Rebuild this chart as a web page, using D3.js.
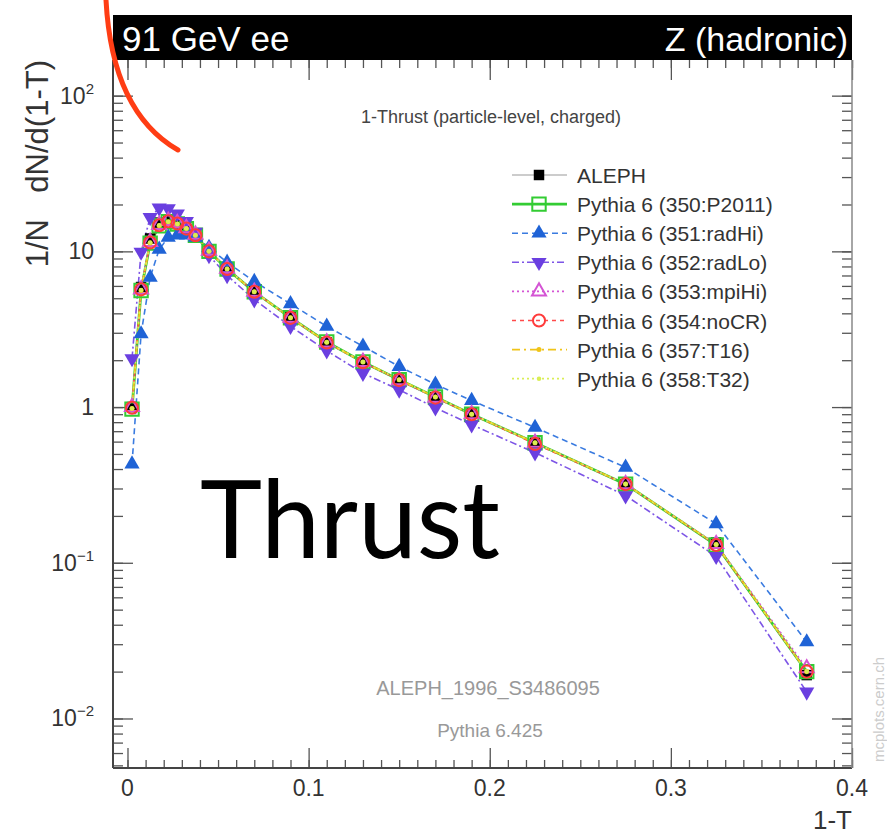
<!DOCTYPE html>
<html>
<head>
<meta charset="utf-8">
<script src="https://cdn.jsdelivr.net/npm/d3@7"></script>
<style>
  body { margin: 0; background: #fff; }
  svg { display: block; font-family: "Liberation Sans", Arial, sans-serif; }
</style>
</head>
<body>
<svg width="887" height="837"></svg>
<script>
// bin centres in 1-T
const binCenters = [0.0025, 0.0075, 0.0125, 0.0175, 0.0225, 0.0275, 0.0325, 0.0375,
  0.045, 0.055, 0.07, 0.09, 0.11, 0.13, 0.15, 0.17, 0.19, 0.225, 0.275, 0.325, 0.375];

const aleph  = [1.0, 5.9, 12.1, 15.3, 16.0, 15.3, 14.0, 12.7, 10.1, 7.8, 5.6, 3.8, 2.6, 1.94, 1.5, 1.16, 0.91, 0.59, 0.32, 0.135, 0.019];
const p2011  = [0.97, 5.6, 11.3, 14.6, 15.5, 15.0, 14.0, 12.7, 10.0, 7.7, 5.5, 3.75, 2.62, 1.95, 1.5, 1.16, 0.9, 0.59, 0.32, 0.13, 0.020];
const radHi  = [0.43, 2.95, 6.8, 10.3, 12.3, 12.7, 12.7, 12.3, 10.6, 8.5, 6.4, 4.6, 3.3, 2.46, 1.82, 1.4, 1.1, 0.74, 0.41, 0.178, 0.031];
const radLo  = [2.05, 9.9, 16.5, 19.0, 18.8, 17.4, 15.6, 13.3, 9.4, 7.0, 4.9, 3.3, 2.3, 1.65, 1.29, 0.99, 0.77, 0.51, 0.27, 0.11, 0.0148];
const mpiHi  = [1.0, 5.7, 11.5, 14.8, 15.7, 15.2, 14.1, 12.8, 10.1, 7.75, 5.5, 3.75, 2.6, 1.95, 1.49, 1.15, 0.9, 0.59, 0.32, 0.132, 0.021];
const noCR   = [0.99, 5.7, 11.4, 14.7, 15.6, 15.1, 14.0, 12.7, 10.0, 7.7, 5.5, 3.74, 2.6, 1.94, 1.49, 1.15, 0.9, 0.58, 0.32, 0.13, 0.020];
const t16    = [0.98, 5.6, 11.3, 14.6, 15.5, 15.0, 14.0, 12.7, 10.0, 7.7, 5.5, 3.75, 2.61, 1.95, 1.5, 1.16, 0.9, 0.59, 0.32, 0.131, 0.020];
const t32    = [0.98, 5.65, 11.4, 14.7, 15.5, 15.0, 14.0, 12.7, 10.0, 7.7, 5.5, 3.75, 2.61, 1.95, 1.5, 1.16, 0.9, 0.59, 0.32, 0.131, 0.020];

const legendLabels = ["ALEPH", "Pythia 6 (350:P2011)", "Pythia 6 (351:radHi)", "Pythia 6 (352:radLo)",
  "Pythia 6 (353:mpiHi)", "Pythia 6 (354:noCR)", "Pythia 6 (357:T16)", "Pythia 6 (358:T32)"];

const xTickLabels = [0, 0.1, 0.2, 0.3, 0.4];
const yTickExps = [2, 1, 0, -1, -2];

// series styles (order = draw order = legend order)
const series = [
  {vals: aleph, color: "#000", line: null, dash: null, sym: d3.symbolSquare, size: 110, fill: "#000", stroke: "none"},
  {vals: p2011, color: "#33cc33", line: 2.8, dash: null, sym: d3.symbolSquare, size: 180, fill: "none", stroke: "#33cc33"},
  {vals: radHi, color: "#3a7be0", line: 1.6, dash: "6,4", sym: d3.symbolTriangle, size: 100, fill: "#1f63d6", stroke: "none"},
  {vals: radLo, color: "#7d55e6", line: 1.6, dash: "7,3,2,3", sym: d3.symbolTriangle, size: 100, fill: "#6a3fe0", stroke: "none", rot: 180},
  {vals: mpiHi, color: "#d454d4", line: 1.6, dash: "2,3", sym: d3.symbolTriangle, size: 85, fill: "none", stroke: "#d454d4"},
  {vals: noCR, color: "#ff4a4a", line: 1.6, dash: "4,4", sym: d3.symbolCircle, size: 115, fill: "none", stroke: "#ff3b3b"},
  {vals: t16, color: "#f0c419", line: 1.8, dash: "8,4,2,4", sym: d3.symbolCircle, size: 20, fill: "#f0c419", stroke: "none"},
  {vals: t32, color: "#d9ee55", line: 1.8, dash: "2,3", sym: d3.symbolCircle, size: 16, fill: "#d9ee55", stroke: "none"}
];

const frame = {left: 113, right: 852, top: 60, bottom: 768};

const x = d3.scaleLinear()
    .domain([-0.008, 0.4])
    .range([frame.left, frame.right]);

const y = d3.scaleLog()
    .domain([Math.pow(10, -2.318), Math.pow(10, 2.229)])
    .range([frame.bottom, frame.top]);

const svg = d3.select("svg");

// header bar
svg.append("rect")
    .attr("x", frame.left).attr("y", 15)
    .attr("width", frame.right - frame.left).attr("height", frame.top - 15)
    .attr("fill", "#000");
svg.append("text")
    .attr("x", frame.left + 9).attr("y", 51)
    .attr("fill", "#fff").attr("font-size", 35)
    .text("91 GeV ee");
svg.append("text")
    .attr("x", frame.right - 4).attr("y", 51)
    .attr("fill", "#fff").attr("font-size", 34)
    .attr("text-anchor", "end")
    .text("Z (hadronic)");

// ticks
const xMinor = d3.range(0, 0.401, 0.01).map(d => +d.toFixed(2));
const yMinor = [];
for (let e = -3; e <= 2; e++) for (let m = 1; m < 10; m++) {
  const v = m * Math.pow(10, e);
  if (v >= y.domain()[0] && v <= y.domain()[1]) yMinor.push(v);
}
const yMajor = yTickExps.map(e => Math.pow(10, e));

const tickColor = "#555";

function ticks(g, axis) {
  g.call(axis);
  g.select(".domain").remove();
  g.selectAll(".tick line").attr("stroke", tickColor).attr("stroke-width", 1.3);
  g.selectAll(".tick text").remove();
}

svg.append("g").attr("transform", `translate(0,${frame.bottom})`)
    .call(ticks, d3.axisBottom(x).tickValues(xMinor).tickSize(-8));
svg.append("g").attr("transform", `translate(0,${frame.bottom})`)
    .call(ticks, d3.axisBottom(x).tickValues(xTickLabels).tickSize(-20));
svg.append("g").attr("transform", `translate(0,${frame.top})`)
    .call(ticks, d3.axisTop(x).tickValues(xMinor).tickSize(-8));
svg.append("g").attr("transform", `translate(0,${frame.top})`)
    .call(ticks, d3.axisTop(x).tickValues(xTickLabels).tickSize(-20));

svg.append("g").attr("transform", `translate(${frame.left},0)`)
    .call(ticks, d3.axisLeft(y).tickValues(yMinor).tickSize(-10));
svg.append("g").attr("transform", `translate(${frame.left},0)`)
    .call(ticks, d3.axisLeft(y).tickValues(yMajor).tickSize(-20));
svg.append("g").attr("transform", `translate(${frame.right},0)`)
    .call(ticks, d3.axisRight(y).tickValues(yMinor).tickSize(-10));
svg.append("g").attr("transform", `translate(${frame.right},0)`)
    .call(ticks, d3.axisRight(y).tickValues(yMajor).tickSize(-20));

// frame lines
svg.append("line").attr("x1", frame.left).attr("x2", frame.right)
    .attr("y1", frame.bottom).attr("y2", frame.bottom)
    .attr("stroke", "#444").attr("stroke-width", 2);
svg.append("line").attr("x1", frame.left).attr("x2", frame.left)
    .attr("y1", frame.top).attr("y2", frame.bottom)
    .attr("stroke", "#444").attr("stroke-width", 2);
svg.append("line").attr("x1", frame.right).attr("x2", frame.right)
    .attr("y1", frame.top).attr("y2", frame.bottom)
    .attr("stroke", "#888").attr("stroke-width", 1.5);

// tick labels
svg.append("g").selectAll("text").data(xTickLabels).join("text")
    .attr("x", d => x(d)).attr("y", frame.bottom + 28)
    .attr("text-anchor", "middle").attr("font-size", 23).attr("fill", "#333")
    .text(d => d === 0 ? "0" : d.toFixed(1));

const yl = svg.append("g").selectAll("text").data(yTickExps).join("text")
    .attr("x", 94).attr("y", e => y(Math.pow(10, e)) + 8)
    .attr("text-anchor", "end").attr("font-size", 23).attr("fill", "#333");
yl.each(function(e) {
  const t = d3.select(this);
  if (e === 0) t.text("1");
  else if (e === 1) t.text("10");
  else {
    t.append("tspan").text("10");
    t.append("tspan").attr("dy", -10).attr("font-size", 15).text(e < 0 ? "\u2212" + (-e) : e);
  }
});

// axis titles
svg.append("text")
    .attr("transform", `translate(48,${frame.top}) rotate(-90)`)
    .attr("text-anchor", "end").attr("font-size", 31).attr("fill", "#333")
    .text("dN/d(1-T)");
svg.append("text")
    .attr("transform", `translate(48,219) rotate(-90)`)
    .attr("text-anchor", "end").attr("font-size", 31).attr("fill", "#333")
    .text("1/N");
svg.append("text")
    .attr("x", frame.right).attr("y", 829)
    .attr("text-anchor", "end").attr("font-size", 26).attr("fill", "#333")
    .text("1-T");

// plot texts
svg.append("text")
    .attr("x", 491).attr("y", 123)
    .attr("text-anchor", "middle").attr("font-size", 18).attr("fill", "#444")
    .text("1-Thrust (particle-level, charged)");
svg.append("text")
    .attr("x", 488).attr("y", 695)
    .attr("text-anchor", "middle").attr("font-size", 20).attr("fill", "#999")
    .text("ALEPH_1996_S3486095");
svg.append("text")
    .attr("x", 490).attr("y", 737)
    .attr("text-anchor", "middle").attr("font-size", 19).attr("fill", "#999")
    .text("Pythia 6.425");
svg.append("text")
    .attr("transform", "translate(884,762) rotate(-90)")
    .attr("font-size", 15).attr("fill", "#ccc")
    .text("mcplots.cern.ch");

// series
const line = d3.line()
    .x((d, i) => x(binCenters[i]))
    .y(d => y(d));

const sym = s => d3.symbol().type(s.sym).size(s.size);

series.forEach(s => {
  if (s.line) {
    svg.append("path")
        .attr("d", line(s.vals))
        .attr("fill", "none")
        .attr("stroke", s.color)
        .attr("stroke-width", s.line)
        .attr("stroke-dasharray", s.dash);
  }
});

series.forEach(s => {
  svg.append("g").selectAll("path").data(s.vals).join("path")
      .attr("transform", (d, i) => `translate(${x(binCenters[i])},${y(d)})` + (s.rot ? ` rotate(${s.rot})` : ""))
      .attr("d", sym(s))
      .attr("fill", s.fill)
      .attr("stroke", s.stroke)
      .attr("stroke-width", 2);
});

// legend
const leg = svg.append("g");
series.forEach((s, i) => {
  const ly = 175 + i * 29.1;
  leg.append("line")
      .attr("x1", 512).attr("x2", 567).attr("y1", ly).attr("y2", ly)
      .attr("stroke", i === 0 ? "#bbb" : s.color)
      .attr("stroke-width", i === 0 ? 1.5 : s.line)
      .attr("stroke-dasharray", s.dash);
  leg.append("path")
      .attr("transform", `translate(539,${ly})` + (s.rot ? ` rotate(${s.rot})` : ""))
      .attr("d", sym(s))
      .attr("fill", s.fill)
      .attr("stroke", s.stroke)
      .attr("stroke-width", 2);
  leg.append("text")
      .attr("x", 577).attr("y", ly + 8)
      .attr("font-size", 21).attr("fill", "#333")
      .text(legendLabels[i]);
});

// big annotation
svg.append("text")
    .attr("x", 200).attr("y", 558)
    .attr("font-family", "Lato, 'Open Sans', sans-serif")
    .attr("font-size", 108).attr("fill", "#000")
    .attr("textLength", 300).attr("lengthAdjust", "spacingAndGlyphs")
    .text("Thrust");

// red arc annotation
svg.append("path")
    .attr("d", "M106,0 Q112,112 178,150")
    .attr("fill", "none")
    .attr("stroke", "#ff3d14")
    .attr("stroke-width", 5)
    .attr("stroke-linecap", "round");
</script>
</body>
</html>
